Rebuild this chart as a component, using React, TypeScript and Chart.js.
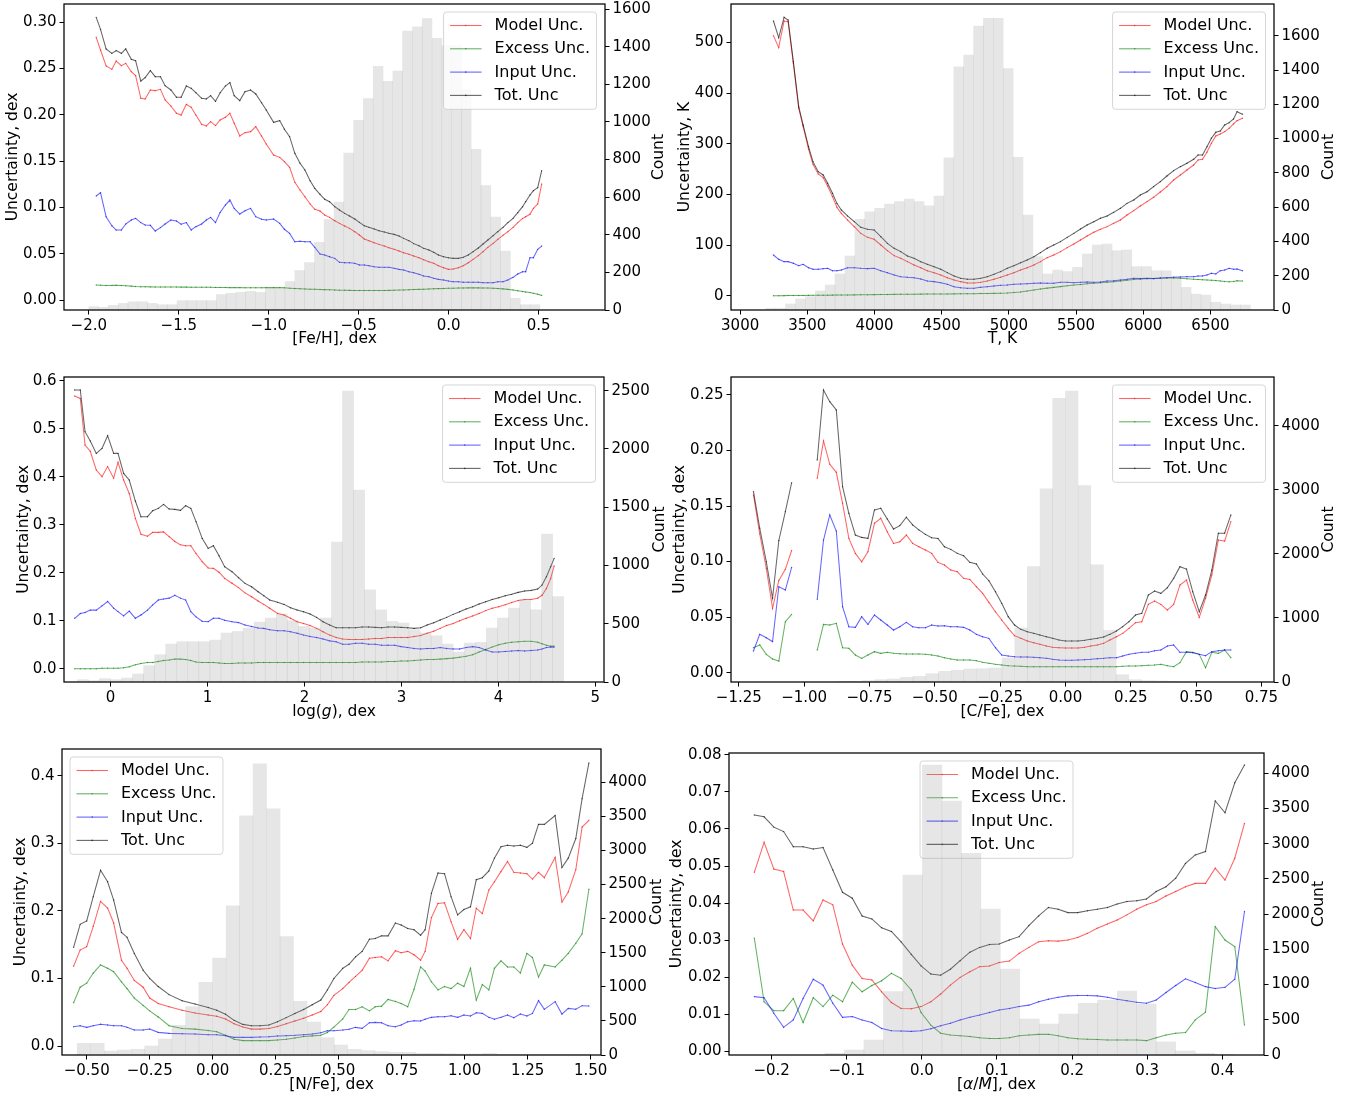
import React, { useEffect, useRef } from "react";
import { Chart, registerables } from "chart.js";
Chart.register(...registerables);

const FONT = '"DejaVu Sans", sans-serif';
const LABELS = ["Model Unc.", "Excess Unc.", "Input Unc.", "Tot. Unc"];
const COLORS = ["rgba(255,0,0,0.6)", "rgba(0,128,0,0.6)", "rgba(0,0,255,0.6)", "rgba(0,0,0,0.6)"];
const HIST_COLOR = "rgba(128,128,128,0.2)";

// ---------------- [Fe/H] ----------------
const FEH_X = [-1.959,-1.935,-1.904,-1.872,-1.848,-1.819,-1.795,-1.764,-1.740,-1.711,
-1.687,-1.658,-1.631,-1.602,-1.576,-1.544,-1.513,-1.487,-1.458,-1.431,
-1.405,-1.373,-1.347,-1.323,-1.296,-1.270,-1.241,-1.216,-1.192,-1.161,
-1.132,-1.101,-1.072,-1.040,-1.014,-0.973,-0.939,-0.913,-0.884,-0.855,
-0.826,-0.799,-0.770,-0.744,-0.715,-0.689,-0.662,-0.633,-0.607,-0.578,
-0.551,-0.522,-0.496,-0.469,-0.443,-0.414,-0.387,-0.358,-0.332,-0.303,
-0.276,-0.250,-0.221,-0.194,-0.165,-0.139,-0.110,-0.083,-0.057,-0.028,
-0.001,0.025,0.054,0.081,0.109,0.136,0.165,0.191,0.218,0.247,
0.273,0.302,0.329,0.358,0.384,0.411,0.428,0.452,0.471,0.495,0.517];
const FEH_TOTAL = [0.3054,0.2924,0.2712,0.2665,0.2694,0.2665,0.2712,0.2600,0.2586,0.2366,
0.2402,0.2478,0.2413,0.2413,0.2316,0.2269,0.2190,0.2190,0.2312,0.2287,
0.2240,0.2179,0.2172,0.2208,0.2146,0.2240,0.2312,0.2348,0.2208,0.2154,
0.2251,0.2269,0.2226,0.2132,0.2053,0.1920,0.1938,0.1844,0.1765,0.1585,
0.1477,0.1405,0.1289,0.1206,0.1142,0.1088,0.1062,0.1008,0.0972,0.0936,
0.0908,0.0875,0.0839,0.0803,0.0785,0.0767,0.0749,0.0735,0.0720,0.0709,
0.0691,0.0666,0.0641,0.0609,0.0587,0.0558,0.0540,0.0515,0.0486,0.0468,
0.0457,0.0450,0.0450,0.0461,0.0486,0.0522,0.0562,0.0605,0.0648,0.0695,
0.0738,0.0785,0.0836,0.0882,0.0944,0.1008,0.1062,0.1134,0.1181,0.1214,0.1397];
const FEH_MODEL = [0.2838,0.2701,0.2528,0.2492,0.2582,0.2532,0.2557,0.2467,0.2424,0.2179,
0.2172,0.2269,0.2262,0.2276,0.2161,0.2096,0.2017,0.1999,0.2114,0.2082,
0.1999,0.1898,0.1880,0.1927,0.1884,0.1945,0.1974,0.2017,0.1909,0.1772,
0.1808,0.1819,0.1873,0.1772,0.1685,0.1567,0.1541,0.1495,0.1433,0.1271,
0.1188,0.1116,0.1037,0.0980,0.0961,0.0918,0.0893,0.0857,0.0828,0.0800,
0.0774,0.0738,0.0702,0.0659,0.0641,0.0619,0.0601,0.0583,0.0565,0.0547,
0.0529,0.0511,0.0493,0.0475,0.0457,0.0436,0.0414,0.0396,0.0371,0.0349,
0.0331,0.0335,0.0349,0.0371,0.0403,0.0439,0.0479,0.0522,0.0569,0.0612,
0.0655,0.0699,0.0738,0.0785,0.0836,0.0882,0.0900,0.0926,0.0990,0.1037,0.1253];
const FEH_INPUT = [0.1124,0.1160,0.0900,0.0803,0.0756,0.0756,0.0821,0.0864,0.0882,0.0836,
0.0810,0.0807,0.0745,0.0782,0.0821,0.0864,0.0854,0.0818,0.0836,0.0756,
0.0792,0.0821,0.0864,0.0893,0.0836,0.0947,0.1026,0.1080,0.0990,0.0929,
0.0965,0.0990,0.0900,0.0872,0.0864,0.0875,0.0828,0.0764,0.0720,0.0630,
0.0634,0.0630,0.0630,0.0569,0.0497,0.0486,0.0468,0.0450,0.0407,0.0403,
0.0403,0.0396,0.0378,0.0378,0.0371,0.0360,0.0353,0.0353,0.0353,0.0342,
0.0331,0.0324,0.0306,0.0295,0.0277,0.0259,0.0252,0.0234,0.0223,0.0216,
0.0205,0.0198,0.0198,0.0191,0.0191,0.0191,0.0191,0.0187,0.0187,0.0187,
0.0198,0.0198,0.0216,0.0245,0.0281,0.0306,0.0306,0.0457,0.0457,0.0547,0.0583];
const FEH_EXCESS = [0.0162,0.0160,0.0157,0.0158,0.0160,0.0157,0.0155,0.0150,0.0146,0.0144,
0.0143,0.0142,0.0141,0.0141,0.0140,0.0140,0.0140,0.0139,0.0139,0.0138,
0.0138,0.0137,0.0137,0.0137,0.0136,0.0136,0.0135,0.0134,0.0134,0.0134,
0.0133,0.0133,0.0133,0.0133,0.0134,0.0135,0.0134,0.0132,0.0128,0.0124,
0.0121,0.0119,0.0117,0.0116,0.0114,0.0112,0.0110,0.0108,0.0106,0.0105,
0.0104,0.0103,0.0102,0.0102,0.0102,0.0102,0.0102,0.0103,0.0104,0.0105,
0.0107,0.0109,0.0111,0.0113,0.0115,0.0117,0.0119,0.0121,0.0123,0.0125,
0.0127,0.0128,0.0129,0.0130,0.0131,0.0131,0.0131,0.0130,0.0129,0.0127,
0.0124,0.0120,0.0115,0.0108,0.0100,0.0092,0.0087,0.0080,0.0072,0.0062,0.0050];
const FEH_HIST_X = [-1.973,-1.918,-1.864,-1.809,-1.755,-1.700,-1.646,-1.591,-1.537,-1.482,
-1.428,-1.373,-1.319,-1.264,-1.210,-1.155,-1.101,-1.046,-0.992,-0.937,
-0.883,-0.828,-0.774,-0.719,-0.665,-0.610,-0.556,-0.501,-0.447,-0.392,
-0.338,-0.283,-0.229,-0.174,-0.120,-0.065,-0.011,0.044,0.098,0.153,
0.207,0.262,0.316,0.371,0.425,0.480];
const FEH_HIST_N = [18,14,25,35,44,44,35,28,28,50,50,50,50,82,89,94,99,94,121,117,
151,210,252,360,481,574,835,1009,1124,1296,1216,1270,1483,1506,1550,1444,1405,1405,1172,854,
662,494,313,62,28,28];
const FEH_XTICKS = [-2, -1.5, -1, -0.5, 0, 0.5];
const FEH_YTICKS = [0, 0.05, 0.1, 0.15, 0.2, 0.25, 0.3];
const FEH_Y1TICKS = [0, 200, 400, 600, 800, 1000, 1200, 1400, 1600];

// ---------------- Teff ----------------
const TEFF_X = [3248,3287,3327,3357,3396,3436,3469,3509,3542,3581,3618,3651,3687,3720,3753,3799,3849,3898,3948,3997,
4047,4096,4146,4195,4245,4294,4344,4393,4443,4493,4542,4592,4641,4691,4740,4790,4839,4889,4938,4988,
5037,5087,5136,5186,5235,5285,5334,5384,5434,5483,5533,5582,5632,5681,5731,5780,5830,5879,5929,5978,
6028,6077,6127,6176,6226,6276,6325,6375,6408,6441,6474,6507,6540,6573,6606,6639,6672,6698,6738];
const TEFF_TOTAL = [542.0,509.2,549.3,544.0,461.9,373.2,337.0,294.3,264.8,245.1,238.5,222.1,202.4,182.6,169.5,157.7,146.5,135.3,131.4,130.1,
116.9,103.8,94.0,87.4,78.8,74.2,67.7,62.4,57.8,52.6,46.0,39.4,34.8,32.9,32.9,34.8,38.1,42.7,48.0,54.5,
59.8,65.7,71.0,77.5,85.4,94.0,100.5,107.1,115.6,123.5,132.1,139.9,146.5,153.1,157.7,164.9,172.8,182.6,189.2,199.1,
205.6,215.5,225.4,236.5,247.0,254.9,261.5,269.4,277.9,277.9,294.3,310.8,322.6,325.2,337.0,341.6,348.9,363.3,358.1];
const TEFF_MODEL = [513.1,489.5,542.0,540.7,458.6,369.9,333.8,289.7,259.5,240.5,233.2,216.8,195.8,174.8,162.9,149.8,136.7,123.5,115.6,111.7,
100.5,89.4,79.5,74.2,67.7,61.1,55.8,49.9,46.0,41.4,36.1,31.5,28.3,25.6,25.6,26.9,29.6,32.9,36.8,41.4,
46.0,51.2,55.8,61.1,67.7,75.6,80.8,87.4,95.3,102.5,110.4,118.3,125.5,131.4,136.7,143.2,149.8,159.7,168.2,177.4,
185.9,194.5,205.0,215.5,228.6,238.5,248.3,258.2,268.1,269.4,283.2,300.9,315.4,319.3,323.9,330.5,339.0,345.6,350.2];
const TEFF_INPUT = [80.8,72.3,67.7,67.7,64.4,59.8,62.4,55.8,52.6,52.6,53.9,54.5,49.9,49.9,51.2,55.8,55.8,54.5,53.9,54.5,
49.9,46.0,41.4,38.1,36.8,36.1,33.5,29.6,28.3,26.3,23.0,18.4,16.4,15.1,15.1,17.1,18.4,19.7,21.0,21.7,
23.0,23.7,24.3,25.0,25.6,25.0,25.0,26.9,26.9,26.3,26.9,27.6,26.9,27.6,29.6,30.2,31.5,32.9,34.8,34.2,
34.8,34.2,35.5,36.1,36.8,37.4,38.1,38.1,39.4,39.4,41.4,44.7,43.4,49.9,51.2,54.5,52.6,53.2,49.9];
const TEFF_EXCESS = [0.5,0.6,0.7,0.8,0.9,1.0,1.1,1.2,1.3,1.4,1.5,1.6,1.7,1.8,1.9,2.0,2.2,2.4,2.5,2.7,
2.9,3.0,3.2,3.3,3.5,3.6,3.7,3.8,3.9,4.0,4.1,4.2,4.3,4.4,4.6,4.8,5.0,5.2,5.5,6.0,
6.8,8.0,9.8,11.8,13.8,15.5,17.0,18.5,20.0,21.5,22.8,24.0,25.0,26.0,27.0,28.2,29.5,31.0,32.5,33.5,
34.0,34.5,35.0,35.5,35.5,35.0,34.0,33.0,32.5,32.0,31.5,31.0,30.5,29.5,28.5,28.0,28.5,30.0,29.5];
const TEFF_HIST_X = [3228,3302,3375,3449,3523,3596,3670,3743,3817,3891,3964,4038,4111,4185,4259,4332,4406,4479,4553,4627,
4700,4774,4847,4921,4995,5068,5142,5215,5289,5363,5436,5510,5583,5657,5731,5804,5878,5951,6025,6099,
6172,6246,6319,6393,6467,6540,6614,6687,6761];
const TEFF_HIST_N = [10,10,35,64,78,111,146,210,315,529,572,593,618,632,647,632,607,665,888,1419,
1487,1656,1701,1701,1409,890,554,311,210,233,224,249,327,379,385,346,350,253,253,229,
229,194,132,93,87,45,35,29,29];
const TEFF_XTICKS = [3000, 3500, 4000, 4500, 5000, 5500, 6000, 6500];
const TEFF_YTICKS = [0, 100, 200, 300, 400, 500];
const TEFF_Y1TICKS = [0, 200, 400, 600, 800, 1000, 1200, 1400, 1600];

// ---------------- log g ----------------
const LOGG_X = [-0.371,-0.313,-0.264,-0.210,-0.148,-0.089,-0.031,0.031,0.076,0.134,
0.192,0.255,0.313,0.380,0.434,0.492,0.546,0.604,0.662,0.720,
0.774,0.827,0.881,0.944,1.006,1.060,1.118,1.176,1.252,1.319,
1.386,1.454,1.521,1.579,1.641,1.722,1.789,1.856,1.923,1.990,
2.057,2.124,2.191,2.259,2.326,2.393,2.460,2.527,2.594,2.661,
2.728,2.795,2.862,2.929,2.996,3.064,3.131,3.198,3.265,3.332,
3.399,3.466,3.533,3.600,3.667,3.734,3.801,3.869,3.936,4.003,
4.070,4.137,4.204,4.271,4.338,4.405,4.450,4.495,4.539,4.575];
const LOGG_TOTAL = [0.5806,0.5806,0.4938,0.4743,0.4486,0.4590,0.4854,0.4486,0.4486,0.4069,
0.3931,0.3493,0.3167,0.3167,0.3292,0.3340,0.3424,0.3326,0.3319,0.3299,
0.3396,0.3340,0.3063,0.2715,0.2507,0.2563,0.2354,0.2125,0.2021,0.1896,
0.1778,0.1708,0.1604,0.1521,0.1431,0.1382,0.1340,0.1271,0.1222,0.1188,
0.1139,0.1069,0.0979,0.0910,0.0854,0.0854,0.0854,0.0854,0.0868,0.0868,
0.0861,0.0854,0.0868,0.0868,0.0861,0.0854,0.0840,0.0854,0.0910,0.0958,
0.1014,0.1069,0.1132,0.1188,0.1243,0.1292,0.1347,0.1396,0.1444,0.1479,
0.1521,0.1549,0.1590,0.1618,0.1632,0.1660,0.1743,0.1917,0.2125,0.2299];
const LOGG_MODEL = [0.568,0.563,0.466,0.453,0.414,0.400,0.421,0.397,0.430,0.393,
0.365,0.313,0.280,0.276,0.284,0.284,0.285,0.275,0.265,0.258,
0.256,0.256,0.240,0.223,0.210,0.209,0.201,0.188,0.178,0.169,
0.158,0.150,0.141,0.134,0.126,0.115,0.112,0.105,0.098,0.094,
0.090,0.084,0.077,0.070,0.065,0.062,0.061,0.061,0.061,0.062,
0.063,0.063,0.065,0.065,0.065,0.065,0.067,0.069,0.074,0.078,
0.084,0.090,0.094,0.100,0.105,0.110,0.115,0.121,0.126,0.129,
0.133,0.138,0.142,0.144,0.144,0.147,0.153,0.167,0.188,0.214];
const LOGG_INPUT = [0.105,0.115,0.117,0.122,0.122,0.131,0.140,0.126,0.119,0.110,
0.120,0.105,0.112,0.122,0.133,0.143,0.145,0.147,0.153,0.147,
0.143,0.119,0.108,0.099,0.098,0.105,0.105,0.101,0.098,0.096,
0.091,0.088,0.085,0.084,0.081,0.079,0.079,0.077,0.074,0.070,
0.067,0.065,0.062,0.058,0.056,0.051,0.051,0.053,0.053,0.051,
0.051,0.049,0.049,0.049,0.046,0.044,0.042,0.041,0.042,0.042,
0.044,0.042,0.041,0.041,0.044,0.046,0.044,0.039,0.035,0.035,
0.036,0.037,0.038,0.037,0.038,0.039,0.041,0.044,0.045,0.045];
const LOGG_EXCESS = [0.000,0.000,0.000,0.000,0.000,0.001,0.001,0.001,0.001,0.002,
0.004,0.008,0.011,0.013,0.013,0.015,0.017,0.018,0.020,0.020,
0.019,0.017,0.014,0.013,0.013,0.013,0.012,0.011,0.011,0.012,
0.012,0.012,0.013,0.013,0.013,0.013,0.013,0.013,0.013,0.013,
0.013,0.013,0.013,0.013,0.013,0.013,0.013,0.013,0.014,0.014,
0.014,0.014,0.015,0.015,0.016,0.016,0.017,0.018,0.019,0.019,
0.020,0.021,0.022,0.024,0.026,0.029,0.035,0.040,0.045,0.050,
0.053,0.055,0.056,0.057,0.057,0.055,0.052,0.049,0.047,0.047];
const LOGG_HIST_X = [-0.287,-0.173,-0.059,0.055,0.169,0.283,0.397,0.511,0.625,0.739,
0.853,0.967,1.081,1.195,1.309,1.423,1.537,1.651,1.765,1.879,
1.993,2.107,2.221,2.335,2.449,2.563,2.677,2.791,2.906,3.020,
3.134,3.248,3.362,3.476,3.590,3.704,3.818,3.932,4.046,4.160,
4.274,4.388,4.502,4.616];
const LOGG_HIST_N = [20,11,29,20,34,69,140,234,326,346,346,346,360,420,434,463,514,549,583,526,
477,463,549,1200,2497,1648,791,620,520,506,449,420,397,326,257,334,340,463,549,634,
706,620,1269,734];
const LOGG_XTICKS = [0, 1, 2, 3, 4, 5];
const LOGG_YTICKS = [0, 0.1, 0.2, 0.3, 0.4, 0.5, 0.6];
const LOGG_Y1TICKS = [0, 500, 1000, 1500, 2000, 2500];

// ---------------- [C/Fe] ----------------
const CFE_X = [-1.194,-1.170,-1.145,-1.121,-1.097,-1.072,-1.048,-1.023,-0.999,-0.975,
-0.950,-0.926,-0.902,-0.877,-0.853,-0.829,-0.804,-0.780,-0.756,-0.731,
-0.707,-0.682,-0.658,-0.634,-0.609,-0.585,-0.561,-0.536,-0.512,-0.488,
-0.463,-0.439,-0.414,-0.390,-0.366,-0.341,-0.317,-0.293,-0.268,-0.244,
-0.219,-0.195,-0.171,-0.146,-0.122,-0.098,-0.073,-0.049,-0.025,0.000,
0.024,0.048,0.073,0.097,0.122,0.146,0.170,0.195,0.219,0.243,
0.268,0.292,0.317,0.341,0.365,0.390,0.414,0.438,0.463,0.487,
0.512,0.536,0.560,0.585,0.609,0.633];
const CFE_TOTAL = [0.163,0.130,0.100,0.067,0.119,0.145,0.171,null,null,null,
0.1915,0.2545,0.2440,0.2365,0.1675,0.1435,0.1239,0.1218,0.1209,0.1465,
0.1480,0.1384,0.1294,0.1324,0.1399,0.1330,0.1285,0.1245,0.1215,0.1209,
0.1134,0.1110,0.1074,0.1053,0.0993,0.0978,0.0888,0.0828,0.0729,0.0624,
0.0504,0.0429,0.0390,0.0369,0.0354,0.0339,0.0324,0.0309,0.0294,0.0285,
0.0285,0.0285,0.0291,0.0300,0.0309,0.0321,0.0345,0.0375,0.0414,0.0459,
0.0519,0.0534,0.0699,0.0735,0.0714,0.0765,0.0849,0.0954,0.0933,0.0729,
0.0549,0.0699,0.0924,0.1255,0.1255,0.1420];
const CFE_MODEL = [0.160,0.125,0.094,0.058,0.083,0.093,0.110,null,null,null,
0.175,0.2086,0.1876,0.1804,0.1525,0.1209,0.1074,0.0999,0.1089,0.1345,
0.1390,0.1269,0.1164,0.1179,0.1239,0.1164,0.1134,0.1104,0.1074,0.0993,
0.0969,0.0924,0.0909,0.0849,0.0840,0.0774,0.0714,0.0633,0.0549,0.0474,
0.0399,0.0333,0.0309,0.0285,0.0270,0.0255,0.0240,0.0228,0.0225,0.0222,
0.0222,0.0222,0.0228,0.0240,0.0249,0.0264,0.0294,0.0324,0.0354,0.0399,
0.0450,0.0459,0.0615,0.0645,0.0615,0.0564,0.0615,0.0789,0.0834,0.0654,
0.0498,0.0669,0.0879,0.1194,0.1185,0.1360];
const CFE_INPUT = [0.0195,0.0345,0.0315,0.028,0.0774,0.0744,0.0948,null,null,null,
0.066,0.1194,0.142,0.1275,0.0594,0.0414,0.0408,0.0504,0.0435,0.0519,
0.0474,0.0429,0.0384,0.0414,0.0453,0.0414,0.0405,0.0405,0.0429,0.0420,
0.0423,0.0414,0.0414,0.0408,0.0384,0.0345,0.0324,0.0309,0.0225,0.0159,
0.0150,0.0144,0.0141,0.0141,0.0138,0.0135,0.0129,0.0120,0.0114,0.0111,
0.0111,0.0114,0.0117,0.0120,0.0126,0.0129,0.0135,0.0135,0.0150,0.0165,
0.0174,0.0183,0.0183,0.0198,0.0204,0.0240,0.0249,0.0183,0.0183,0.0180,
0.0165,0.0153,0.0189,0.0198,0.0204,0.0204];
const CFE_EXCESS = [0.0225,0.0249,0.0165,0.0123,0.0105,0.0459,0.0525,null,null,null,
0.0204,0.0435,0.0429,0.0444,0.0225,0.0219,0.0159,0.0129,0.0159,0.0189,
0.0174,0.0183,0.0174,0.0171,0.0168,0.0168,0.0168,0.0165,0.0159,0.0150,
0.0135,0.0123,0.0114,0.0114,0.0114,0.0108,0.0093,0.0084,0.0075,0.0069,
0.0063,0.0060,0.0057,0.0054,0.0054,0.0054,0.0054,0.0054,0.0054,0.0054,
0.0054,0.0054,0.0054,0.0054,0.0054,0.0054,0.0054,0.0054,0.0057,0.0060,
0.0060,0.0063,0.0066,0.0069,0.0075,0.0063,0.0054,0.0090,0.0189,0.0183,
0.0165,0.0045,0.0183,0.0174,0.0204,0.0135];
const CFE_HIST_X = [-0.850,-0.802,-0.753,-0.704,-0.656,-0.607,-0.559,-0.510,-0.462,-0.413,
-0.365,-0.316,-0.267,-0.219,-0.170,-0.122,-0.073,-0.025,0.024,0.073,
0.121,0.170,0.218,0.267,0.315,0.364,0.413];
const CFE_HIST_N = [5,10,21,36,47,73,88,130,166,182,203,208,218,374,842,1803,3013,4426,4540,3065,
1829,805,114,36,21,16,10];
const CFE_XTICKS = [-1.25, -1, -0.75, -0.5, -0.25, 0, 0.25, 0.5, 0.75];
const CFE_YTICKS = [0, 0.05, 0.1, 0.15, 0.2, 0.25];
const CFE_Y1TICKS = [0, 1000, 2000, 3000, 4000];

// ---------------- [N/Fe] ----------------
const NFE_X = [-0.552,-0.526,-0.500,-0.474,-0.445,-0.417,-0.393,-0.362,-0.340,-0.311,
-0.276,-0.250,-0.216,-0.173,-0.121,-0.070,-0.018,0.016,0.051,0.085,
0.120,0.154,0.188,0.223,0.257,0.292,0.326,0.361,0.395,0.429,
0.455,0.481,0.516,0.541,0.567,0.593,0.622,0.645,0.670,0.696,
0.725,0.748,0.774,0.799,0.825,0.843,0.868,0.894,0.920,0.946,
0.972,0.997,1.023,1.046,1.070,1.096,1.118,1.144,1.170,1.195,
1.221,1.247,1.269,1.293,1.316,1.359,1.386,1.411,1.441,1.466,1.493];
const NFE_TOTAL = [0.146,0.180,0.185,0.221,0.260,0.243,0.216,0.168,0.161,0.137,
0.112,0.100,0.088,0.076,0.067,0.062,0.057,0.053,0.047,0.038,
0.032,0.030,0.030,0.031,0.036,0.042,0.048,0.054,0.061,0.068,
0.083,0.100,0.115,0.121,0.132,0.140,0.158,0.159,0.163,0.163,
0.182,0.179,0.174,0.172,0.164,0.172,0.226,0.256,0.255,0.221,
0.194,0.202,0.206,0.246,0.249,0.259,0.278,0.295,0.297,0.296,
0.297,0.294,0.300,0.328,0.328,0.341,0.264,0.278,0.307,0.366,0.419];
const NFE_MODEL = [0.118,0.142,0.147,0.177,0.214,0.204,0.182,0.127,0.115,0.097,
0.087,0.071,0.063,0.058,0.053,0.049,0.046,0.044,0.040,0.033,
0.028,0.025,0.025,0.026,0.029,0.033,0.037,0.041,0.046,0.051,
0.061,0.075,0.085,0.094,0.103,0.112,0.130,0.131,0.132,0.126,
0.141,0.138,0.140,0.135,0.127,0.140,0.190,0.211,0.212,0.184,
0.158,0.172,0.159,0.204,0.196,0.231,0.243,0.258,0.273,0.257,
0.256,0.255,0.247,0.257,0.249,0.279,0.213,0.228,0.261,0.324,0.334];
const NFE_INPUT = [0.0286,0.0301,0.0276,0.0301,0.0321,0.0311,0.0301,0.0301,0.0276,0.0237,
0.0237,0.0252,0.0202,0.0187,0.0182,0.0178,0.0168,0.0168,0.0153,0.0128,
0.0128,0.0128,0.0133,0.0138,0.0148,0.0153,0.0158,0.0168,0.0178,0.0197,
0.0227,0.0227,0.0237,0.0247,0.0276,0.0261,0.0345,0.0350,0.0345,0.0301,
0.0286,0.0311,0.0360,0.0375,0.0370,0.0395,0.0424,0.0434,0.0434,0.0449,
0.0424,0.0459,0.0444,0.0493,0.0483,0.0424,0.0395,0.0424,0.0459,0.0419,
0.0473,0.0444,0.0483,0.0671,0.0543,0.0656,0.0473,0.0557,0.0543,0.0597,0.0592];
const NFE_EXCESS = [0.064,0.087,0.093,0.108,0.120,0.115,0.110,0.095,0.085,0.071,
0.060,0.052,0.043,0.030,0.026,0.025,0.023,0.021,0.016,0.010,
0.008,0.008,0.008,0.008,0.009,0.010,0.012,0.014,0.015,0.016,
0.020,0.028,0.040,0.054,0.054,0.058,0.052,0.058,0.059,0.069,
0.066,0.063,0.058,0.084,0.117,0.111,0.095,0.083,0.088,0.085,
0.093,0.088,0.115,0.068,0.091,0.083,0.115,0.126,0.117,0.117,
0.108,0.137,0.131,0.102,0.120,0.117,0.127,0.137,0.152,0.166,0.232];
const NFE_HIST_X = [-0.511,-0.457,-0.404,-0.350,-0.296,-0.243,-0.189,-0.135,-0.081,-0.028,
0.026,0.080,0.133,0.187,0.241,0.294,0.348,0.402,0.456,0.509,
0.563,0.617,0.670,0.724,0.778,0.831,0.885,0.939,0.993,1.046,
1.100,1.154,1.207,1.261,1.315,1.368,1.422,1.476];
const NFE_HIST_N = [171,171,59,73,83,132,235,435,709,1066,1423,2186,3506,4269,3609,1736,787,484,254,147,
83,64,49,39,39,24,24,20,15,15,24,10,10,10,5,5,5,5];
const NFE_XTICKS = [-0.5, -0.25, 0, 0.25, 0.5, 0.75, 1, 1.25, 1.5];
const NFE_YTICKS = [0, 0.1, 0.2, 0.3, 0.4];
const NFE_Y1TICKS = [0, 500, 1000, 1500, 2000, 2500, 3000, 3500, 4000];

// ---------------- [alpha/M] ----------------
const AM_X = [-0.2230,-0.2100,-0.1970,-0.1840,-0.1711,-0.1581,-0.1445,-0.1315,-0.1185,-0.1056,
-0.0926,-0.0795,-0.0665,-0.0535,-0.0405,-0.0276,-0.0140,-0.0010,0.0120,0.0250,
0.0380,0.0510,0.0640,0.0770,0.0900,0.1030,0.1165,0.1295,0.1425,0.1555,
0.1685,0.1815,0.1945,0.2075,0.2205,0.2335,0.2471,0.2600,0.2730,0.2860,
0.2990,0.3120,0.3250,0.3380,0.3510,0.3640,0.3776,0.3906,0.4036,0.4166,0.4295];
const AM_TOTAL = [0.0638,0.0633,0.0605,0.0593,0.0552,0.0552,0.0546,0.0550,0.0489,0.0429,
0.0413,0.0365,0.0357,0.0333,0.0323,0.0295,0.0261,0.0230,0.0208,0.0205,
0.0221,0.0244,0.0267,0.0280,0.0288,0.0289,0.0300,0.0309,0.0339,0.0365,
0.0388,0.0383,0.0374,0.0374,0.0379,0.0383,0.0388,0.0397,0.0404,0.0406,
0.0411,0.0431,0.0444,0.0467,0.0507,0.0530,0.0539,0.0676,0.0644,0.0725,0.0773];
const AM_MODEL = [0.0483,0.0564,0.0492,0.0485,0.0381,0.0381,0.0352,0.0408,0.0395,0.0289,
0.0232,0.0196,0.0192,0.0160,0.0131,0.0115,0.0114,0.0120,0.0133,0.0154,
0.0178,0.0199,0.0214,0.0228,0.0230,0.0239,0.0243,0.0264,0.0280,0.0295,
0.0298,0.0297,0.0300,0.0307,0.0318,0.0332,0.0343,0.0354,0.0368,0.0383,
0.0395,0.0404,0.0419,0.0431,0.0444,0.0453,0.0453,0.0494,0.0462,0.0521,0.0615];
const AM_INPUT = [0.0147,0.0144,0.0102,0.0064,0.0084,0.0142,0.0194,0.0178,0.0129,0.0091,
0.0093,0.0084,0.0077,0.0061,0.0055,0.0054,0.0053,0.0055,0.0060,0.0068,
0.0075,0.0084,0.0091,0.0097,0.0104,0.0111,0.0115,0.0120,0.0124,0.0133,
0.0140,0.0145,0.0149,0.0150,0.0150,0.0149,0.0145,0.0140,0.0136,0.0132,
0.0129,0.0138,0.0158,0.0177,0.0195,0.0185,0.0174,0.0169,0.0172,0.0194,0.0377];
const AM_EXCESS = [0.0305,0.0133,0.0109,0.0109,0.0142,0.0077,0.0144,0.0120,0.0151,0.0133,
0.0186,0.0160,0.0177,0.0190,0.0210,0.0196,0.0165,0.0104,0.0070,0.0048,
0.0043,0.0041,0.0039,0.0036,0.0034,0.0034,0.0036,0.0041,0.0043,0.0045,
0.0045,0.0041,0.0036,0.0033,0.0032,0.0031,0.0030,0.0030,0.0030,0.0030,
0.0028,0.0036,0.0043,0.0048,0.0050,0.0084,0.0105,0.0336,0.0300,0.0282,0.0070];
const AM_HIST_X = [-0.1159,-0.0900,-0.0641,-0.0381,-0.0122,0.0138,0.0397,0.0656,0.0915,0.1175,
0.1434,0.1693,0.1953,0.2212,0.2471,0.2731,0.2990,0.3249,0.3508,0.3768,0.4027];
const AM_HIST_N = [24,71,213,900,2556,4118,3607,2864,2073,1221,511,440,582,734,781,909,724,185,57,24,9];
const AM_XTICKS = [-0.2, -0.1, 0, 0.1, 0.2, 0.3, 0.4];
const AM_YTICKS = [0, 0.01, 0.02, 0.03, 0.04, 0.05, 0.06, 0.07, 0.08];
const AM_Y1TICKS = [0, 500, 1000, 1500, 2000, 2500, 3000, 3500, 4000];

// ---------------- layout ----------------
const PAD_L = 75, PAD_R = 75, PAD_T = 20, PAD_B = 50;
const TICK_FS = 15, TITLE_FS = 15.5, LEGEND_FS = 16;

type Seg = { t: string; i?: boolean };
const PANELS: any[] = [
  { area: [64, 4, 605, 310], xMin: -2.138, xMax: 0.869, yMin: -0.0108, yMax: 0.3198, y1Max: 1627,
    xTicks: FEH_XTICKS, yTicks: FEH_YTICKS, y1Ticks: FEH_Y1TICKS, xDec: 1, yDec: 2,
    xs: FEH_X, series: [FEH_MODEL, FEH_EXCESS, FEH_INPUT, FEH_TOTAL], hx: FEH_HIST_X, hn: FEH_HIST_N,
    xTitle: [{ t: "[Fe/H], dex" }], yTitle: "Uncertainty, dex", tpos: [13, 659, 339], legend: "ur", under: false },
  { area: [731, 4, 1274, 310], xMin: 2932, xMax: 6973, yMin: -27.6, yMax: 575.5, y1Max: 1785,
    xTicks: TEFF_XTICKS, yTicks: TEFF_YTICKS, y1Ticks: TEFF_Y1TICKS, xDec: 0, yDec: 0,
    xs: TEFF_X, series: [TEFF_MODEL, TEFF_EXCESS, TEFF_INPUT, TEFF_TOTAL], hx: TEFF_HIST_X, hn: TEFF_HIST_N,
    xTitle: [{ t: "T, K" }], yTitle: "Uncertainty, K", tpos: [685, 1329, 339], legend: "ur", under: false },
  { area: [64, 377, 604, 682], xMin: -0.481, xMax: 5.089, yMin: -0.0277, yMax: 0.6077, y1Max: 2618,
    xTicks: LOGG_XTICKS, yTicks: LOGG_YTICKS, y1Ticks: LOGG_Y1TICKS, xDec: 0, yDec: 1,
    xs: LOGG_X, series: [LOGG_MODEL, LOGG_EXCESS, LOGG_INPUT, LOGG_TOTAL], hx: LOGG_HIST_X, hn: LOGG_HIST_N,
    xTitle: [{ t: "log(" }, { t: "g", i: true }, { t: "), dex" }], yTitle: "Uncertainty, dex", tpos: [23.5, 660, 712], legend: "ur", under: false },
  { area: [731, 377, 1274, 682], xMin: -1.28, xMax: 0.798, yMin: -0.0084, yMax: 0.2662, y1Max: 4760,
    xTicks: CFE_XTICKS, yTicks: CFE_YTICKS, y1Ticks: CFE_Y1TICKS, xDec: 2, yDec: 2,
    xs: CFE_X, series: [CFE_MODEL, CFE_EXCESS, CFE_INPUT, CFE_TOTAL], hx: CFE_HIST_X, hn: CFE_HIST_N,
    xTitle: [{ t: "[C/Fe], dex" }], yTitle: "Uncertainty, dex", tpos: [680, 1329, 712], legend: "ur", under: false },
  { area: [62, 749, 601, 1055], xMin: -0.598, xMax: 1.541, yMin: -0.0133, yMax: 0.4395, y1Max: 4488,
    xTicks: NFE_XTICKS, yTicks: NFE_YTICKS, y1Ticks: NFE_Y1TICKS, xDec: 2, yDec: 1,
    xs: NFE_X, series: [NFE_MODEL, NFE_EXCESS, NFE_INPUT, NFE_TOTAL], hx: NFE_HIST_X, hn: NFE_HIST_N,
    xTitle: [{ t: "[N/Fe], dex" }], yTitle: "Uncertainty, dex", tpos: [20.5, 657, 1085], legend: "ul", under: false },
  { area: [729, 753, 1264, 1055], xMin: -0.2567, xMax: 0.4555, yMin: -0.00108, yMax: 0.08054, y1Max: 4288,
    xTicks: AM_XTICKS, yTicks: AM_YTICKS, y1Ticks: AM_Y1TICKS, xDec: 1, yDec: 2,
    xs: AM_X, series: [AM_MODEL, AM_EXCESS, AM_INPUT, AM_TOTAL], hx: AM_HIST_X, hn: AM_HIST_N,
    xTitle: [{ t: "[" }, { t: "α", i: true }, { t: "/" }, { t: "M", i: true }, { t: "], dex" }], yTitle: "Uncertainty, dex", tpos: [677, 1319, 1085], legend: "uc", under: true },
];

function fmt(v: number, dec: number): string {
  const s = Math.abs(v) < 1e-12 ? (0).toFixed(dec) : v.toFixed(dec);
  return s.replace("-", "\u2212");
}

function drawLegend(ctx: CanvasRenderingContext2D, ca: any, p: any) {
  ctx.save();
  ctx.font = `${LEGEND_FS}px ${FONT}`;
  const tw = Math.max(...LABELS.map((l) => ctx.measureText(l).width));
  const w = 51 + tw + 6.5;
  const h = 97.3;
  let x: number;
  if (p.legend === "ur") x = ca.right - 8.5 - w;
  else if (p.legend === "ul") x = ca.left + 8;
  else x = (ca.left + ca.right) / 2 - w / 2;
  const y = ca.top + 8;
  ctx.beginPath();
  (ctx as any).roundRect(x, y, w, h, 3);
  ctx.fillStyle = "rgba(255,255,255,0.8)";
  ctx.fill();
  ctx.lineWidth = 1;
  ctx.strokeStyle = "rgba(204,204,204,0.8)";
  ctx.stroke();
  ctx.textBaseline = "middle";
  ctx.textAlign = "left";
  for (let i = 0; i < 4; i++) {
    const cy = y + 13.5 + i * 23.3;
    ctx.strokeStyle = COLORS[i];
    ctx.lineWidth = 1.1;
    ctx.beginPath();
    ctx.moveTo(x + 6.5, cy);
    ctx.lineTo(x + 38, cy);
    ctx.stroke();
    ctx.fillStyle = COLORS[i];
    ctx.beginPath();
    ctx.arc(x + 22.2, cy, 0.8, 0, Math.PI * 2);
    ctx.fill();
    ctx.fillStyle = "#000";
    ctx.fillText(LABELS[i], x + 51, cy + 0.5);
  }
  ctx.restore();
}

function PanelChart({ p }: { p: any }) {
  const ref = useRef<HTMLCanvasElement>(null);
  const [L, T, R, B] = p.area;
  const cw = R - L + PAD_L + PAD_R;
  const ch = B - T + PAD_T + PAD_B;
  const offX = L - PAD_L;
  const offY = T - PAD_T;

  useEffect(() => {
    const canvas = ref.current;
    if (!canvas) return;
    const mkLine = (k: number) => ({
      type: "line",
      label: LABELS[k],
      data: p.xs.map((x: number, i: number) => ({ x, y: p.series[k][i] })),
      borderColor: COLORS[k],
      backgroundColor: COLORS[k],
      borderWidth: 1.05,
      pointRadius: 0.7,
      pointHoverRadius: 0,
      pointBorderWidth: 0,
      pointBackgroundColor: COLORS[k],
      tension: 0,
      spanGaps: false,
      yAxisID: "y",
      order: 4 - k,
    });
    const tickCommon = (dec: number) => ({
      font: { family: FONT, size: TICK_FS },
      color: "#000",
      padding: 3,
      maxRotation: 0,
      autoSkip: false,
      callback: (v: any) => fmt(Number(v), dec),
    });
    const gridCommon = { display: true, drawOnChartArea: false, drawTicks: true, tickLength: 4.5, color: "#000", lineWidth: 1 };
    const decor = {
      id: "decor",
      beforeDatasetDraw(chart: any, args: any) {
        if (p.under && args.meta.type === "bar") drawLegend(chart.ctx, chart.chartArea, p);
      },
      afterDatasetsDraw(chart: any) {
        if (!p.under) drawLegend(chart.ctx, chart.chartArea, p);
      },
      afterDraw(chart: any) {
        const ctx = chart.ctx as CanvasRenderingContext2D;
        const ca = chart.chartArea;
        ctx.save();
        ctx.strokeStyle = "#000";
        ctx.lineWidth = 1.25;
        ctx.strokeRect(ca.left, ca.top, ca.right - ca.left, ca.bottom - ca.top);
        ctx.fillStyle = "#000";
        ctx.textBaseline = "middle";
        ctx.textAlign = "center";
        ctx.font = `${TITLE_FS}px ${FONT}`;
        const cy = (ca.top + ca.bottom) / 2;
        ctx.save();
        ctx.translate(p.tpos[0] - offX, cy);
        ctx.rotate(-Math.PI / 2);
        ctx.fillText(p.yTitle, 0, 0);
        ctx.restore();
        ctx.save();
        ctx.translate(p.tpos[1] - offX, cy);
        ctx.rotate(-Math.PI / 2);
        ctx.fillText("Count", 0, 0);
        ctx.restore();
        const segs: Seg[] = p.xTitle;
        const fontOf = (s: Seg) => `${s.i ? "italic " : ""}${TITLE_FS}px ${FONT}`;
        let total = 0;
        for (const s of segs) { ctx.font = fontOf(s); total += ctx.measureText(s.t).width; }
        let x = (ca.left + ca.right) / 2 - total / 2;
        const y = p.tpos[2] - offY;
        ctx.textAlign = "left";
        for (const s of segs) {
          ctx.font = fontOf(s);
          ctx.fillText(s.t, x, y);
          x += ctx.measureText(s.t).width;
        }
        ctx.restore();
      },
    };
    const chart = new Chart(canvas, {
      type: "line",
      data: {
        datasets: [
          {
            type: "bar",
            label: "Count",
            data: p.hx.map((x: number, i: number) => ({ x, y: p.hn[i] })),
            backgroundColor: HIST_COLOR,
            borderWidth: 0,
            barPercentage: 1,
            categoryPercentage: 1,
            yAxisID: "y1",
            order: 0,
          } as any,
          mkLine(0), mkLine(1), mkLine(2), mkLine(3),
        ] as any,
      },
      options: {
        responsive: false,
        animation: false,
        devicePixelRatio: 1,
        events: [],
        layout: { padding: { top: PAD_T, left: 0, right: 0, bottom: 0 } },
        plugins: { legend: { display: false }, tooltip: { enabled: false }, title: { display: false } },
        scales: {
          x: {
            type: "linear", position: "bottom", min: p.xMin, max: p.xMax, offset: false,
            afterBuildTicks: (ax: any) => { ax.ticks = p.xTicks.map((v: number) => ({ value: v })); },
            afterFit: (ax: any) => { ax.height = PAD_B; },
            grid: { ...gridCommon, offset: false },
            border: { display: false },
            ticks: tickCommon(p.xDec),
          },
          y: {
            type: "linear", position: "left", min: p.yMin, max: p.yMax,
            afterBuildTicks: (ax: any) => { ax.ticks = p.yTicks.map((v: number) => ({ value: v })); },
            afterFit: (ax: any) => { ax.width = PAD_L; },
            grid: gridCommon,
            border: { display: false },
            ticks: tickCommon(p.yDec),
          },
          y1: {
            type: "linear", position: "right", min: 0, max: p.y1Max,
            afterBuildTicks: (ax: any) => { ax.ticks = p.y1Ticks.map((v: number) => ({ value: v })); },
            afterFit: (ax: any) => { ax.width = PAD_R; },
            grid: gridCommon,
            border: { display: false },
            ticks: tickCommon(0),
          },
        } as any,
      } as any,
      plugins: [decor as any],
    });
    return () => chart.destroy();
  }, [p]);

  return (
    <canvas
      ref={ref}
      width={cw}
      height={ch}
      style={{ position: "absolute", left: offX, top: offY, width: cw, height: ch }}
    />
  );
}

export default function App() {
  return (
    <div style={{ position: "absolute", left: 0, top: 0, width: 1362, height: 1099, background: "#fff", overflow: "hidden" }}>
      {PANELS.map((p, i) => (
        <PanelChart key={i} p={p} />
      ))}
    </div>
  );
}
